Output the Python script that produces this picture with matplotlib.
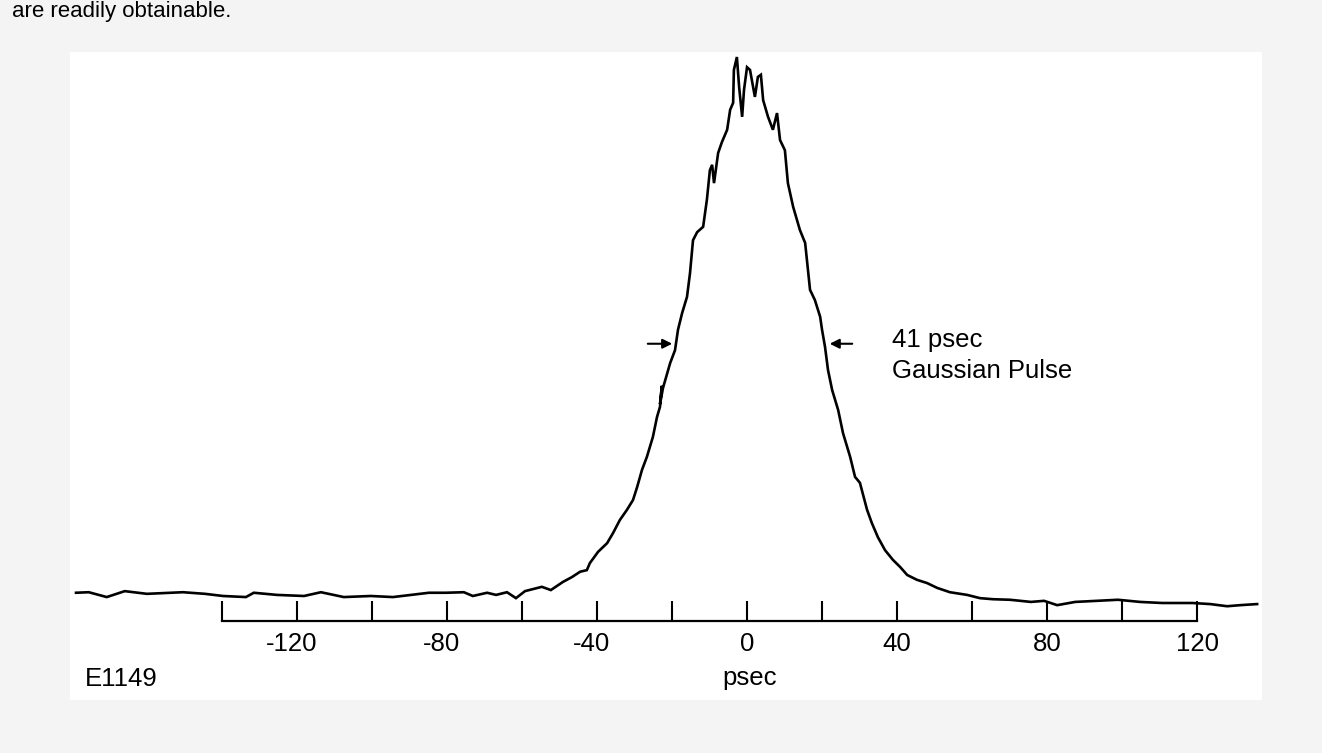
"""Streak-camera trace of a 41 psec Gaussian pulse (figure E1149)."""

import matplotlib
matplotlib.use("Agg")
import matplotlib.pyplot as plt
import matplotlib.patches as mpatches
from matplotlib.transforms import ScaledTranslation

# ── Data ────────────────────────────────────────────────────────────────────
# time in psec, signal in arbitrary units (baseline ~0, peak = 100)
time_ps = [
    -178.9, -175.5, -170.7, -165.9, -160.0, -150.4, -144.5, -139.7, -133.6, -131.5,
    -125.3, -118.1, -113.6, -107.5, -100.3, -94.4, -84.8, -80.3, -75.5, -73.1,
    -69.3, -66.9, -64.0, -61.6, -59.2, -54.7, -52.3, -49.1, -46.7, -44.5,
    -42.7, -41.9, -39.7, -37.3, -35.7, -33.9, -32.0, -30.4, -29.3, -28.0,
    -26.7, -25.1, -24.0, -23.2, -22.7, -23.2, -22.4, -20.5, -19.2, -18.4,
    -17.3, -16.0, -15.2, -14.4, -13.3, -11.7, -10.7, -9.9, -9.3, -8.8,
    -7.7, -6.7, -5.3, -4.5, -3.7, -3.5, -2.7, -2.1, -1.3, -0.8,
    0.0, 0.8, 2.1, 2.9, 3.7, 4.3, 5.6, 6.9, 8.0, 8.8,
    10.1, 10.9, 12.3, 14.1, 15.5, 16.8, 18.1, 19.5, 20.0, 20.8,
    21.6, 22.7, 24.3, 25.6, 27.5, 28.8, 30.1, 32.0, 33.3, 34.9,
    36.8, 38.9, 40.8, 42.7, 45.3, 48.0, 50.7, 54.1, 58.7, 62.1,
    65.6, 70.1, 75.7, 79.2, 82.7, 87.5, 98.9, 104.8, 110.7, 118.7,
    123.5, 128.0, 131.5, 136.0,
]
signal = [
    0.6, 0.7, -0.2, 0.9, 0.4, 0.7, 0.4, 0.0, -0.2, 0.6,
    0.2, 0.0, 0.7, -0.2, 0.0, -0.2, 0.6, 0.6, 0.7, 0.0,
    0.6, 0.2, 0.7, -0.4, 0.9, 1.7, 1.1, 2.6, 3.5, 4.5,
    4.8, 6.1, 8.2, 9.8, 11.7, 14.1, 16.0, 17.8, 20.2, 23.4,
    25.8, 29.5, 33.2, 35.1, 39.0, 35.6, 38.6, 43.2, 45.6, 49.4,
    52.5, 55.5, 59.9, 66.0, 67.5, 68.5, 73.5, 79.0, 80.0, 76.6,
    82.2, 84.2, 86.5, 90.2, 91.5, 97.6, 100.0, 94.4, 88.9, 93.9,
    98.1, 97.6, 92.6, 96.3, 96.7, 92.0, 88.9, 86.5, 89.6, 84.6,
    82.7, 76.6, 72.2, 67.9, 65.5, 56.8, 54.9, 51.8, 49.4, 46.2,
    41.9, 38.2, 34.5, 30.2, 25.8, 22.1, 21.0, 16.0, 13.5, 10.9,
    8.5, 6.7, 5.4, 3.9, 3.0, 2.4, 1.5, 0.7, 0.2, -0.4,
    -0.6, -0.7, -1.1, -0.9, -1.7, -1.1, -0.7, -1.1, -1.3, -1.3,
    -1.5, -1.9, -1.7, -1.5,
]

tick_pos = list(range(-140, 121, 20))
label_pos = [-120, -80, -40, 0, 40, 80, 120]

# FWHM markers
fwhm_left = -19.2
fwhm_right = 21.3
half_level = 46.8
fwhm_lines = ["41 psec", "Gaussian Pulse"]

# ── Style ────────────────────────────────────────────────────────────────────
INK = "black"
FS = 18.5
plt.rcParams.update({
    "font.family": ["Liberation Sans", "DejaVu Sans"],
    "font.size": FS,
})

W, H = 1322, 753
fig = plt.figure(figsize=(W / 100, H / 100), dpi=100, facecolor="#f4f4f4")

# white scanned page area
fig.add_artist(mpatches.Rectangle((70 / W, 1 - 700 / H), (1262 - 70) / W, (700 - 52) / H,
                                  transform=fig.transFigure, facecolor="white",
                                  edgecolor="none", zorder=0))

# line of body text at the very top (cut by the scan in the original)
fig.text(12 / W, 1 - 1 / H, "are readily obtainable.", fontsize=16,
         va="top", ha="left", color=INK)

# ── Trace ────────────────────────────────────────────────────────────────────
ax = fig.add_axes([70 / W, 1 - 621 / H, (1262 - 70) / W, (621 - 50) / H])
ax.patch.set_alpha(0)
ax.plot(time_ps, signal, color=INK, linewidth=1.9, solid_joinstyle="miter")

ax.set_xlim(-180.5, 137.3)
ax.set_ylim(-4.64, 101.3)

for side in ["top", "left", "right"]:
    ax.spines[side].set_visible(False)
ax.spines["bottom"].set_bounds(tick_pos[0], tick_pos[-1])
ax.spines["bottom"].set_linewidth(1.6)

ax.set_yticks([])
ax.set_xticks(tick_pos)
ax.set_xticklabels([str(t) if t in label_pos else "" for t in tick_pos])
ax.tick_params(axis="x", direction="in", length=14.5, width=1.5,
               pad=8, labelsize=FS, colors=INK)
# digits centred on the tick, minus sign hanging to the left
for lab in ax.get_xticklabels():
    if lab.get_text().startswith("-"):
        lab.set_transform(lab.get_transform() + ScaledTranslation(-5 / 100, 0, fig.dpi_scale_trans))

# FWHM arrows
ax.annotate("", xy=(fwhm_left, half_level), xytext=(fwhm_left - 8, half_level),
            arrowprops=dict(arrowstyle="-|>", color=INK, lw=1.5, mutation_scale=14))
ax.annotate("", xy=(fwhm_right, half_level), xytext=(fwhm_right + 7.5, half_level),
            arrowprops=dict(arrowstyle="-|>", color=INK, lw=1.5, mutation_scale=14))
ax.text(38.7, 46.2, fwhm_lines[0], fontsize=FS, va="baseline", ha="left", color=INK)
ax.text(38.7, 40.4, fwhm_lines[1], fontsize=FS, va="baseline", ha="left", color=INK)

# ── Labels ───────────────────────────────────────────────────────────────────
fig.text(750 / W, 1 - 685 / H, "psec", fontsize=FS, ha="center", va="baseline")
fig.text(85 / W, 1 - 686 / H, "E1149", fontsize=FS, ha="left", va="baseline")

fig.savefig("out.png", dpi=100, facecolor=fig.get_facecolor())
